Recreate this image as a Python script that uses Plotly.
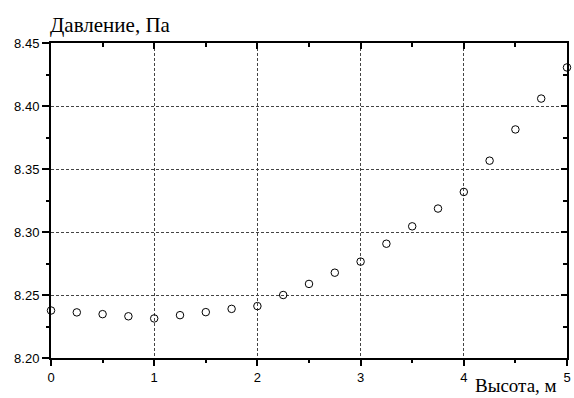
import plotly.graph_objects as go

height_m = [0, 0.25, 0.5, 0.75, 1.0, 1.25, 1.5, 1.75, 2.0, 2.25, 2.5, 2.75,
            3.0, 3.25, 3.5, 3.75, 4.0, 4.25, 4.5, 4.75, 5.0]
pressure_pa = [8.2377, 8.2362, 8.2348, 8.2331, 8.2314, 8.2340, 8.2364, 8.2390,
               8.2412, 8.2500, 8.2588, 8.2677, 8.2765, 8.2907, 8.3045, 8.3186,
               8.3318, 8.3566, 8.3814, 8.4059, 8.4306]

x_ticks = [0, 1, 2, 3, 4, 5]
y_ticks = [8.20, 8.25, 8.30, 8.35, 8.40, 8.45]
y_labels = ["8.20", "8.25", "8.30", "8.35", "8.40", "8.45"]

fig = go.Figure()
fig.add_trace(go.Scatter(
    x=height_m, y=pressure_pa, mode="markers",
    marker=dict(symbol="circle-open", size=7.5, color="black", line=dict(width=1)),
    cliponaxis=False, showlegend=False,
))
# invisible trace for mirror axes
fig.add_trace(go.Scatter(x=[0], y=[8.2], xaxis="x2", yaxis="y2",
                         mode="markers", marker=dict(opacity=0),
                         showlegend=False, hoverinfo="skip"))

tickfont = dict(family="Liberation Sans, Arial, sans-serif", size=13, color="black")
grid = dict(showgrid=True, gridcolor="#444", gridwidth=1, griddash="3px,2px")
serif = "Liberation Serif, Times New Roman, serif"

fig.update_layout(
    width=574, height=398,
    margin=dict(l=51, r=3, t=43, b=40),
    paper_bgcolor="white", plot_bgcolor="white",
    xaxis=dict(range=[0, 5], tickvals=x_ticks, ticktext=[str(v) for v in x_ticks],
               ticks="outside", ticklen=6, tickwidth=1.5, tickcolor="black",
               showline=True, linecolor="black", linewidth=2,
               ticklabeloverflow="allow",
               minor=dict(ticks="outside", ticklen=3, tickwidth=1.5,
                          tickcolor="black", dtick=0.5, showgrid=False),
               tickfont=tickfont, zeroline=False, **grid),
    yaxis=dict(range=[8.20, 8.45], tickvals=y_ticks, ticktext=y_labels,
               ticks="outside", ticklen=7, tickwidth=1.5, tickcolor="black",
               showline=True, linecolor="black", linewidth=2,
               ticklabeloverflow="allow",
               minor=dict(ticks="outside", ticklen=3, tickwidth=1.5,
                          tickcolor="black", dtick=0.025, showgrid=False),
               tickfont=tickfont, zeroline=False, **grid),
    xaxis2=dict(range=[0, 5], overlaying="x", side="top", anchor="y",
                tickvals=x_ticks, ticks="inside", ticklen=6, tickwidth=1.5,
                tickcolor="black", showticklabels=False, showgrid=False,
                showline=True, linecolor="black", linewidth=2, zeroline=False,
                minor=dict(ticks="inside", ticklen=4, tickwidth=1.5,
                           tickcolor="black", dtick=0.5, showgrid=False)),
    yaxis2=dict(range=[8.20, 8.45], overlaying="y", side="right", anchor="x",
                tickvals=y_ticks, ticks="inside", ticklen=6, tickwidth=1.5,
                tickcolor="black", showticklabels=False, showgrid=False,
                showline=True, linecolor="black", linewidth=2, zeroline=False,
                minor=dict(ticks="inside", ticklen=4, tickwidth=1.5,
                           tickcolor="black", dtick=0.025, showgrid=False)),
    annotations=[
        dict(text="Давление, Па", xref="paper", yref="paper", x=0, y=1,
             xanchor="left", yanchor="bottom", yshift=4, xshift=-3, showarrow=False,
             font=dict(family=serif, size=21, color="black")),
        dict(text="Высота, м", xref="paper", yref="paper", x=1, y=0,
             xanchor="right", yanchor="bottom", xshift=-8, yshift=-40, showarrow=False,
             font=dict(family=serif, size=19, color="black")),
    ],
)

fig.write_html("out.html")
